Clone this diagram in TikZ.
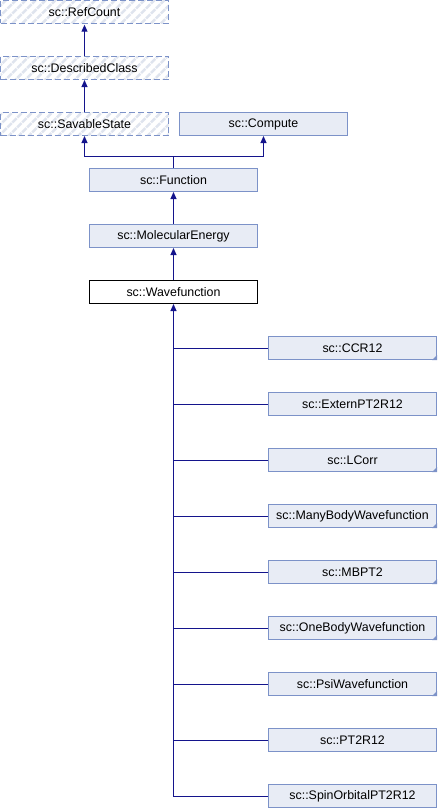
\documentclass[tikz,border=0pt]{standalone}
\usepackage{fontspec}
\setmainfont{Liberation Sans}
\usetikzlibrary{arrows.meta,patterns.meta}
\definecolor{boxfill}{HTML}{E8ECF5}
\definecolor{boxedge}{HTML}{7C92C8}
\definecolor{hatchcol}{HTML}{DFE4EE}
\definecolor{arrowcol}{HTML}{14148C}
\begin{document}
\begin{tikzpicture}[x=1pt,y=1pt,
	clsbase/.style={minimum width=168pt,minimum height=23pt,inner sep=0pt,
		line width=1pt,font=\fontsize{12.4}{14}\selectfont},
	klass/.style={clsbase,draw=boxedge,fill=boxfill},
	hatched/.style={clsbase,draw=boxedge,dash pattern=on 6pt off 3pt,
		preaction={fill=white},
		pattern={Lines[angle=45,distance=7pt,line width=2.5pt]},pattern color=hatchcol},
	current/.style={clsbase,draw=black,fill=white},
	inherit/.style={draw=arrowcol,line width=1pt,-{Triangle[width=6pt,length=7pt]}},
	trunk/.style={draw=arrowcol,line width=1pt}]
	\useasboundingbox (0,0) rectangle (437,-808);
	%Classes de base
	\node[hatched] (refc) at (84.5,-12) {sc::RefCount};
	\node[hatched] (desc) at (84.5,-68) {sc::DescribedClass};
	\node[hatched] (save) at (84.5,-124) {sc::SavableState};
	\node[klass] (comp) at (263.5,-124) {sc::Compute};
	\node[klass] (func) at (173.5,-180) {sc::Function};
	\node[klass] (mole) at (173.5,-236) {sc::MolecularEnergy};
	\node[current] (wfn) at (173.5,-292) {sc::Wavefunction};
	%Classes derivees
	\node[klass] (ccr) at (352.5,-348) {sc::CCR12};
	\node[klass] (extpt) at (352.5,-404) {sc::ExternPT2R12};
	\node[klass] (lcorr) at (352.5,-460) {sc::LCorr};
	\node[klass] (mbwfn) at (352.5,-516) {sc::ManyBodyWavefunction};
	\node[klass] (mbpt) at (352.5,-572) {sc::MBPT2};
	\node[klass] (obwfn) at (352.5,-628) {sc::OneBodyWavefunction};
	\node[klass] (psiwfn) at (352.5,-684) {sc::PsiWavefunction};
	\node[klass] (ptr) at (352.5,-740) {sc::PT2R12};
	\node[klass] (sopt) at (352.5,-796) {sc::SpinOrbitalPT2R12};
	%Coins
	\foreach \n in {ccr,lcorr,mbwfn,mbpt,obwfn,psiwfn}
		\fill[boxedge] (\n.south east) -- ++(-5,0) -- ++(5,5) -- cycle;
	%Heritage
	\draw[inherit] (desc.north) -- (refc.south);
	\draw[inherit] (save.north) -- (desc.south);
	\draw[inherit] (func.north) -- ++(0,11.5) coordinate (fork) -| (save.south);
	\draw[inherit] (fork) -| (comp.south);
	\draw[inherit] (mole.north) -- (func.south);
	\draw[inherit] (wfn.north) -- (mole.south);
	\draw[inherit] (sopt.west) -| (wfn.south);
	\draw[trunk] (ccr.west) -- (ccr.west -| wfn.south);
	\draw[trunk] (extpt.west) -- (extpt.west -| wfn.south);
	\draw[trunk] (lcorr.west) -- (lcorr.west -| wfn.south);
	\draw[trunk] (mbwfn.west) -- (mbwfn.west -| wfn.south);
	\draw[trunk] (mbpt.west) -- (mbpt.west -| wfn.south);
	\draw[trunk] (obwfn.west) -- (obwfn.west -| wfn.south);
	\draw[trunk] (psiwfn.west) -- (psiwfn.west -| wfn.south);
	\draw[trunk] (ptr.west) -- (ptr.west -| wfn.south);
\end{tikzpicture}
\end{document}
